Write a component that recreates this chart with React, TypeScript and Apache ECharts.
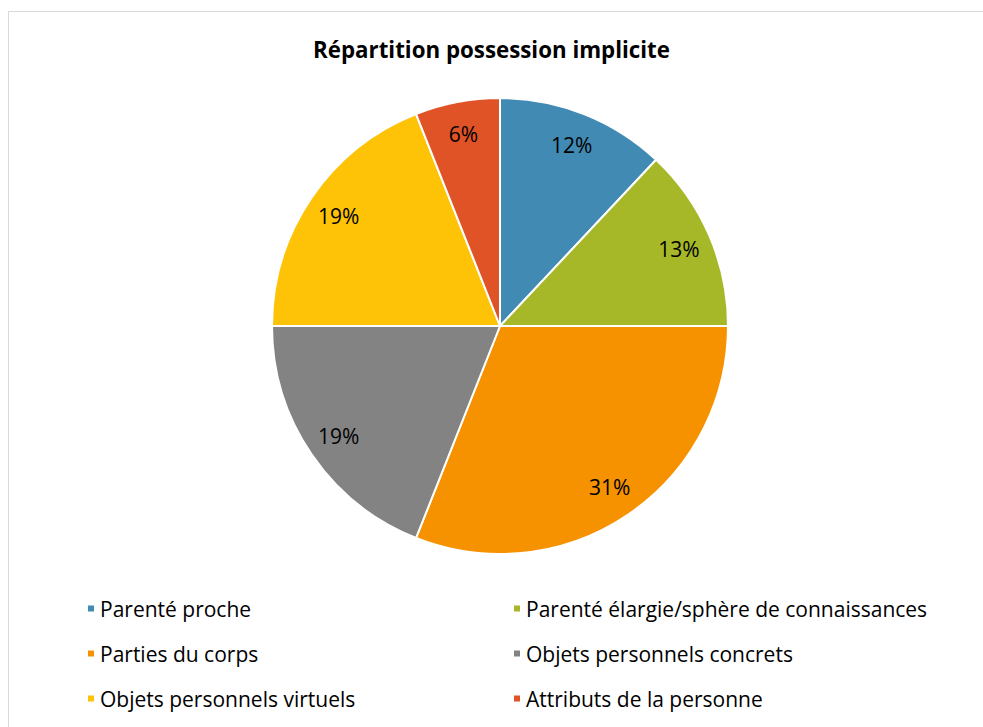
import React, { useEffect, useRef } from "react";
import * as echarts from "echarts";

const titleText = "Répartition possession implicite";
const categories = [
  "Parenté proche",
  "Parenté élargie/sphère de connaissances",
  "Parties du corps",
  "Objets personnels concrets",
  "Objets personnels virtuels",
  "Attributs de la personne",
];
const values = [12, 13, 31, 19, 19, 6];
const colors = ["#418AB3", "#A6B727", "#F69200", "#838383", "#FEC306", "#DF5327"];
const leftLegend = [categories[0], categories[2], categories[4]];
const rightLegend = [categories[1], categories[3], categories[5]];

const FONT = "'Open Sans', Lato, sans-serif";

export default function App() {
  const ref = useRef<HTMLDivElement>(null);
  useEffect(() => {
    if (!ref.current) return;
    const chart = echarts.init(ref.current, undefined, { renderer: "svg" });
    const data = categories.map((name, i) => ({
      name,
      value: values[i],
      itemStyle: { color: colors[i] },
    }));
    const legendCommon = {
      orient: "vertical" as const,
      top: 598,
      padding: 0,
      itemWidth: 8,
      itemHeight: 8,
      itemGap: 24,
      icon: "rect",
      selectedMode: false,
      textStyle: { fontFamily: FONT, fontSize: 21, color: "#000", lineHeight: 21 },
    };
    chart.setOption({
      animation: false,
      backgroundColor: "#fff",
      title: {
        text: titleText,
        left: "center",
        top: 33,
        textStyle: { fontFamily: FONT, fontSize: 22.3, fontWeight: "bold", color: "#000" },
      },
      graphic: [
        {
          type: "rect",
          shape: { x: 8.5, y: 11.5, width: 1000, height: 800 },
          style: { fill: "none", stroke: "#D9D9D9", lineWidth: 1 },
          silent: true,
        },
      ],
      legend: [
        { ...legendCommon, left: 86, data: leftLegend },
        { ...legendCommon, left: 512, data: rightLegend },
      ],
      series: [
        {
          type: "pie",
          center: [500, 326],
          radius: [0, 228],
          startAngle: 90,
          clockwise: true,
          label: { show: false },
          labelLine: { show: false },
          itemStyle: { borderColor: "#fff", borderWidth: 2 },
          emphasis: { disabled: true },
          data,
        },
        {
          type: "pie",
          center: [500, 326],
          radius: [156, 228],
          startAngle: 90,
          clockwise: true,
          silent: true,
          percentPrecision: 0,
          itemStyle: { color: "transparent" },
          label: {
            show: true,
            position: "inside",
            formatter: "{d}%",
            fontFamily: FONT,
            fontSize: 21,
            color: "#000",
          },
          labelLine: { show: false },
          emphasis: { disabled: true },
          data: categories.map((name, i) => ({ name, value: values[i], itemStyle: { color: "transparent" } })),
        },
      ],
    });
    return () => chart.dispose();
  }, []);
  return (
    <div
      ref={ref}
      style={{ position: "absolute", left: 0, top: 0, width: 983, height: 727 }}
    />
  );
}
